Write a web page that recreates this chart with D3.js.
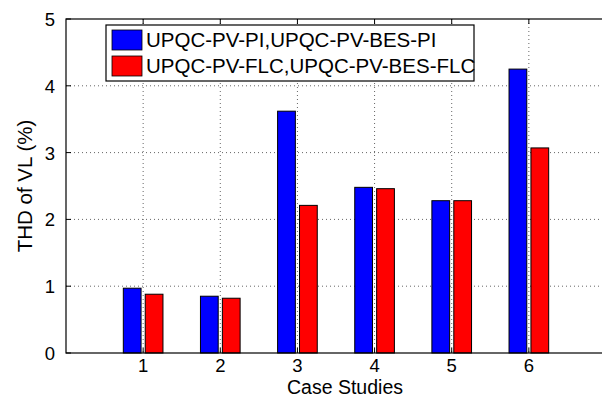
<!DOCTYPE html>
<html>
<head>
<meta charset="utf-8">
<script src="https://cdn.jsdelivr.net/npm/d3@7"></script>
<style>
  body { margin: 0; background: #fff; }
  svg { display: block; font-family: "Liberation Sans", Arial, sans-serif; }
</style>
</head>
<body>
<div id="chart"></div>
<script>
// data
const cases = [1, 2, 3, 4, 5, 6];
const piValues = [0.97, 0.85, 3.62, 2.48, 2.28, 4.25];
const flcValues = [0.88, 0.82, 2.21, 2.46, 2.28, 3.07];
const yTicks = [0, 1, 2, 3, 4, 5];
const seriesNames = ["UPQC-PV-PI,UPQC-PV-BES-PI", "UPQC-PV-FLC,UPQC-PV-BES-FLC"];
const seriesColors = ["#0000ff", "#ff0000"];

const W = 602, H = 398;
const margin = {top: 19, right: -4, bottom: 45, left: 66};
const width = W - margin.left - margin.right;
const height = H - margin.top - margin.bottom;
const fs = 20.5, tickFs = 18.5;

const svg = d3.select("#chart").append("svg")
    .attr("width", W)
    .attr("height", H);

const g = svg.append("g")
    .attr("transform", "translate(" + margin.left + "," + margin.top + ")");

const x = d3.scaleLinear().domain([0, 7]).range([0, width]);
const y = d3.scaleLinear().domain([0, 5]).range([height, 0]);

// grid lines (dotted)
g.selectAll(".vgrid")
    .data(cases)
    .enter().append("line")
    .attr("x1", d => x(d)).attr("x2", d => x(d))
    .attr("y1", 0).attr("y2", height)
    .attr("stroke", "#666")
    .attr("stroke-width", 1)
    .attr("stroke-dasharray", "1,3");
g.selectAll(".hgrid")
    .data(yTicks.slice(1, -1))
    .enter().append("line")
    .attr("x1", 0).attr("x2", width)
    .attr("y1", d => y(d)).attr("y2", d => y(d))
    .attr("stroke", "#666")
    .attr("stroke-width", 1)
    .attr("stroke-dasharray", "1,3");

// bars
const barW = 0.23, offset = 0.142;
const series = [piValues, flcValues];
series.forEach((vals, s) => {
  const off = s == 0 ? -offset : offset;
  g.selectAll(".bar" + s)
      .data(vals)
      .enter().append("rect")
      .attr("x", (d, i) => x(cases[i] + off - barW / 2))
      .attr("y", d => y(d))
      .attr("width", x(barW) - x(0))
      .attr("height", d => y(0) - y(d))
      .attr("fill", seriesColors[s])
      .attr("stroke", "#000")
      .attr("stroke-width", 1);
});

// axes box
g.append("rect")
    .attr("x", 0).attr("y", 0)
    .attr("width", width).attr("height", height)
    .attr("fill", "none")
    .attr("stroke", "#000")
    .attr("stroke-width", 1.2);

// tick marks (inward)
cases.forEach(c => {
  g.append("line").attr("x1", x(c)).attr("x2", x(c)).attr("y1", height).attr("y2", height - 5).attr("stroke", "#000");
  g.append("line").attr("x1", x(c)).attr("x2", x(c)).attr("y1", 0).attr("y2", 5).attr("stroke", "#000");
});
yTicks.forEach(t => {
  g.append("line").attr("x1", 0).attr("x2", 5).attr("y1", y(t)).attr("y2", y(t)).attr("stroke", "#000");
});

// tick labels
g.selectAll(".xlab")
    .data(cases)
    .enter().append("text")
    .attr("x", d => x(d))
    .attr("y", height + 18.5)
    .attr("text-anchor", "middle")
    .attr("font-size", tickFs)
    .text(d => d);
g.selectAll(".ylab")
    .data(yTicks)
    .enter().append("text")
    .attr("x", -11)
    .attr("y", d => y(d) + 7)
    .attr("text-anchor", "end")
    .attr("font-size", tickFs)
    .text(d => d);

// axis labels
svg.append("text")
    .attr("x", 345)
    .attr("y", 393.5)
    .attr("text-anchor", "middle")
    .attr("font-size", 19.5)
    .text("Case Studies");
svg.append("text")
    .attr("transform", "translate(32," + (margin.top + height / 2) + ") rotate(-90)")
    .attr("text-anchor", "middle")
    .attr("font-size", fs)
    .text("THD of VL (%)");

// legend
const legend = svg.append("g").attr("transform", "translate(106,25)");
legend.append("rect")
    .attr("x", 0).attr("y", 0)
    .attr("width", 368).attr("height", 56)
    .attr("fill", "#fff")
    .attr("stroke", "#000")
    .attr("stroke-width", 1.2);
seriesNames.forEach((name, i) => {
  legend.append("rect")
      .attr("x", 6).attr("y", 5 + i * 26)
      .attr("width", 30).attr("height", 20)
      .attr("fill", seriesColors[i])
      .attr("stroke", "#000")
      .attr("stroke-width", 0.8);
  legend.append("text")
      .attr("x", 40).attr("y", 22 + i * 26)
      .attr("font-size", fs)
      .text(name);
});
</script>
</body>
</html>
